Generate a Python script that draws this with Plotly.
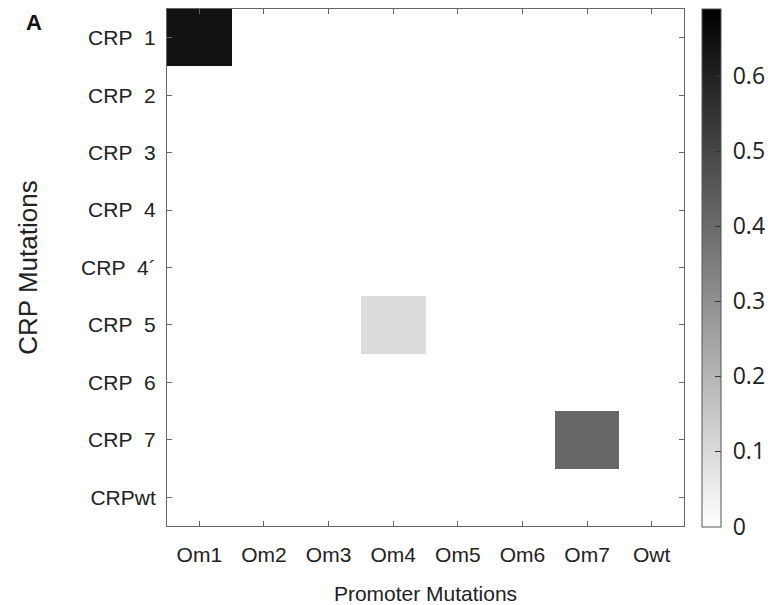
import plotly.graph_objects as go

# Categories
promoters = ["Om1", "Om2", "Om3", "Om4", "Om5", "Om6", "Om7", "Owt"]
crp_rows = ["CRP\u00a0\u00a01", "CRP\u00a0\u00a02", "CRP\u00a0\u00a03", "CRP\u00a0\u00a04",
            "CRP\u00a0\u00a04\u00b4", "CRP\u00a0\u00a05", "CRP\u00a0\u00a06", "CRP\u00a0\u00a07", "CRPwt"]

# Values (rows = CRP mutations, columns = promoter mutations)
row_crp1 = [0.64, 0, 0, 0, 0, 0, 0, 0]
row_crp2 = [0, 0, 0, 0, 0, 0, 0, 0]
row_crp3 = [0, 0, 0, 0, 0, 0, 0, 0]
row_crp4 = [0, 0, 0, 0, 0, 0, 0, 0]
row_crp4p = [0, 0, 0, 0, 0, 0, 0, 0]
row_crp5 = [0, 0, 0, 0.095, 0, 0, 0, 0]
row_crp6 = [0, 0, 0, 0, 0, 0, 0, 0]
row_crp7 = [0, 0, 0, 0, 0, 0, 0.41, 0]
row_crpwt = [0, 0, 0, 0, 0, 0, 0, 0]

colorbar_ticks = [0, 0.1, 0.2, 0.3, 0.4, 0.5, 0.6]
colorbar_labels = ["0", "0.1", "0.2", "0.3", "0.4", "0.5", "0.6"]
color_max = 0.69

z = [row_crp1, row_crp2, row_crp3, row_crp4, row_crp4p,
     row_crp5, row_crp6, row_crp7, row_crpwt]

axis_color = "#666666"
label_font = dict(family="Liberation Sans, Arial, sans-serif", size=21, color="#222222")

fig = go.Figure(
    go.Heatmap(
        z=z,
        x=promoters,
        y=crp_rows,
        colorscale=[[0, "#ffffff"], [1, "#000000"]],
        zmin=0,
        zmax=color_max,
        hoverongaps=False,
        colorbar=dict(
            x=1.035,
            xanchor="left",
            xpad=0,
            y=0.5,
            yanchor="middle",
            ypad=0,
            len=1.002,
            lenmode="fraction",
            thickness=19,
            outlinecolor="#555555",
            outlinewidth=1,
            ticks="inside",
            ticklen=6,
            tickcolor="#333333",
            tickvals=colorbar_ticks,
            ticktext=["\u2009\u200a" + t for t in colorbar_labels],
            tickfont=dict(family="Open Sans, sans-serif", size=23, color="#222222"),
        ),
    )
)

fig.update_layout(
    width=768,
    height=605,
    margin=dict(l=167, r=84, t=9, b=79, autoexpand=False),
    paper_bgcolor="white",
    plot_bgcolor="white",
    xaxis=dict(
        showline=True,
        linecolor=axis_color,
        linewidth=1,
        mirror="ticks",
        ticks="inside",
        ticklen=5,
        tickcolor=axis_color,
        tickfont=label_font,
        showgrid=False,
        zeroline=False,
        ticklabelstandoff=10,
        title=dict(text="Promoter Mutations",
                   font=dict(family="Liberation Sans, Arial, sans-serif", size=21, color="#222222"),
                   standoff=22),
    ),
    yaxis=dict(
        autorange="reversed",
        showline=True,
        linecolor=axis_color,
        linewidth=1,
        mirror="ticks",
        ticks="inside",
        ticklen=5,
        tickcolor=axis_color,
        tickfont=label_font,
        showgrid=False,
        zeroline=False,
        ticklabelstandoff=6,
        title=dict(text="CRP Mutations",
                   font=dict(family="Liberation Sans, Arial, sans-serif", size=26, color="#222222"),
                   standoff=36),
    ),
    annotations=[
        dict(text="<b>A</b>", x=-0.258, y=0.973, xref="paper", yref="paper",
             showarrow=False, font=dict(family="Liberation Sans, Arial, sans-serif", size=22, color="#111111"),
             xanchor="center", yanchor="middle")
    ],
)

fig.write_html(
    "out.html",
    config={"displayModeBar": False},
    post_script="document.body.style.margin='0';document.body.style.overflow='hidden';",
)
